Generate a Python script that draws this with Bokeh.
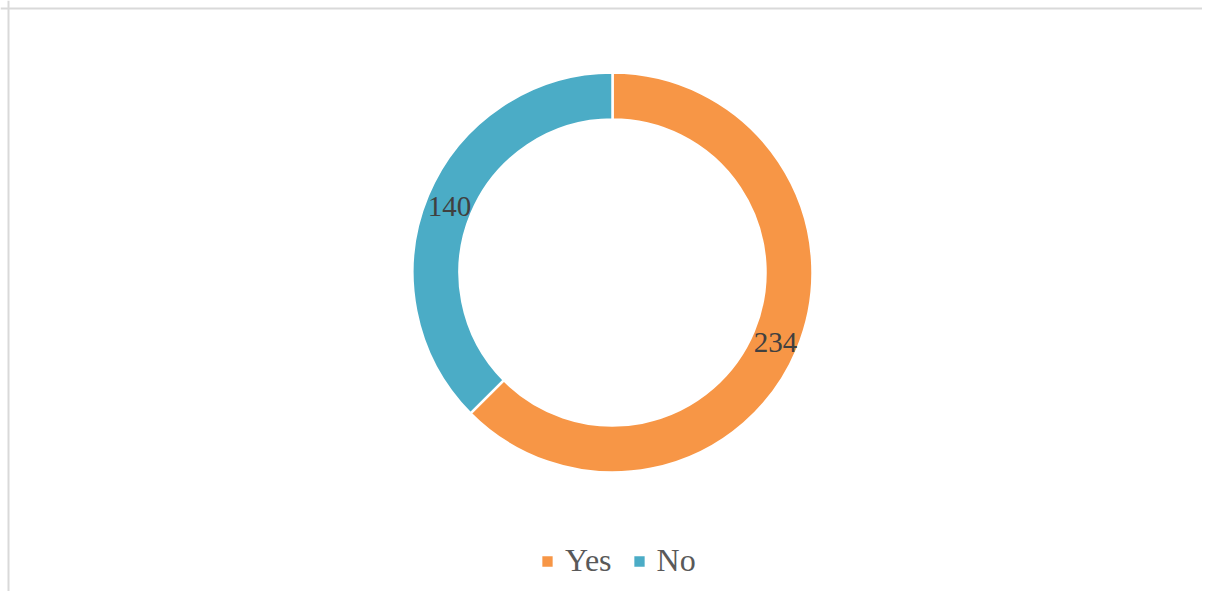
import math
from bokeh.plotting import figure
from bokeh.models import ColumnDataSource, Range1d, Span, Legend, LegendItem
from bokeh.core.properties import value
from bokeh.embed import file_html
from bokeh.resources import INLINE

categories = ["Yes", "No"]
counts = [234, 140]
colors = ["#F79646", "#4BACC6"]

W, H = 1202, 591
cx, cy = 612, H - 272
r_out, r_in = 200, 153

total = sum(counts)
starts, ends, lx, ly = [], [], [], []
a = math.pi / 2
for c in counts:
    sweep = 2 * math.pi * c / total
    starts.append(a - sweep)
    ends.append(a)
    mid = a - sweep / 2
    rm = (r_out + r_in) / 2
    lx.append(cx + rm * math.cos(mid))
    ly.append(cy + rm * math.sin(mid) - 2)
    a -= sweep

src = ColumnDataSource(dict(cat=categories, val=counts, color=colors,
                            start=starts, end=ends, lx=lx, ly=ly,
                            txt=[str(v) for v in counts]))

p = figure(width=W, height=H, x_range=Range1d(0, W), y_range=Range1d(0, H),
           output_backend="svg", toolbar_location=None, min_border=0)
p.axis.visible = False
p.grid.visible = False
p.outline_line_color = None
p.background_fill_color = "white"
p.border_fill_color = "white"

renderers = []
for i in range(len(categories)):
    s = ColumnDataSource({k: [v[i]] for k, v in src.data.items()})
    r = p.annular_wedge(x=cx, y=cy, inner_radius=r_in, outer_radius=r_out,
                        start_angle="start", end_angle="end", source=s,
                        fill_color="color", line_color="white", line_width=2.5)
    renderers.append(r)

p.text(x="lx", y="ly", text="txt", source=src, text_align="center",
       text_baseline="middle", text_font=value("Liberation Serif"),
       text_font_size="29px", text_color="#404040")

p.add_layout(Span(location=8, dimension="height", line_color="#d9d9d9", line_width=2))
p.add_layout(Span(location=H - 8, dimension="width", line_color="#d9d9d9", line_width=2))

legend = Legend(items=[LegendItem(label=categories[i], renderers=[renderers[i]])
                       for i in range(len(categories))],
                orientation="horizontal", location=(539, 12),
                label_text_font="Liberation Serif", label_text_font_size="32px",
                label_text_color="#595959", glyph_width=16, glyph_height=16,
                label_standoff=10, spacing=19, padding=0, margin=0,
                border_line_color=None, background_fill_alpha=0)
p.add_layout(legend)

open("out.html", "w").write(file_html(p, INLINE))
